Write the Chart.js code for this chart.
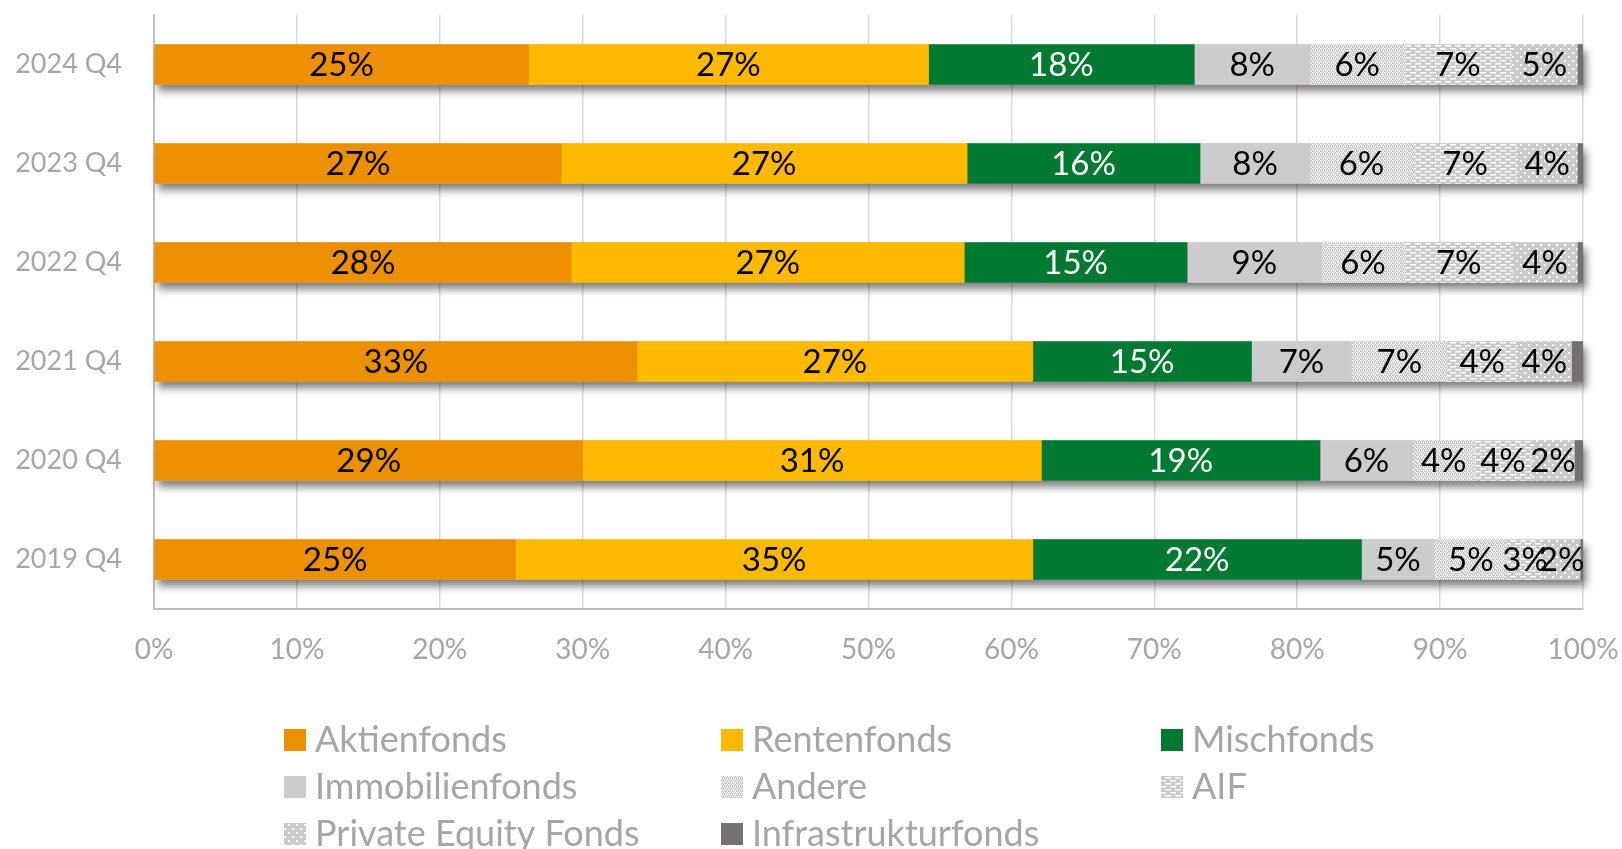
<!DOCTYPE html>
<html><head><meta charset="utf-8">
<script src="https://cdn.jsdelivr.net/npm/chart.js@4/dist/chart.umd.min.js"></script>
<style>html,body{margin:0;padding:0;background:#fff;overflow:hidden}</style>
</head><body>
<canvas id="c" width="1622" height="849"></canvas>
<script>
// ---------- data ----------
const categories = ['2024 Q4','2023 Q4','2022 Q4','2021 Q4','2020 Q4','2019 Q4'];
const seriesNames = ['Aktienfonds','Rentenfonds','Mischfonds','Immobilienfonds','Andere','AIF','Private Equity Fonds','Infrastrukturfonds'];
// share of each bar (%)
const aktienfonds     = [26.2, 28.5, 29.2, 33.8, 30.0, 25.3];
const rentenfonds     = [28.0, 28.4, 27.5, 27.7, 32.1, 36.2];
const mischfonds      = [18.6, 16.3, 15.6, 15.3, 19.5, 23.0];
const immobilienfonds = [8.1, 7.7, 9.4, 7.0, 6.5, 5.1];
const andere          = [6.6, 7.2, 5.8, 6.7, 4.3, 5.1];
const aif             = [7.5, 7.3, 7.6, 4.9, 4.0, 2.5];
const privateEquity   = [4.6, 4.2, 4.5, 3.8, 3.0, 2.6];
const infrastruktur   = [0.4, 0.4, 0.4, 0.8, 0.6, 0.2];
// printed labels (%)
const aktienLabels    = [25, 27, 28, 33, 29, 25];
const rentenLabels    = [27, 27, 27, 27, 31, 35];
const mischLabels     = [18, 16, 15, 15, 19, 22];
const immoLabels      = [8, 8, 9, 7, 6, 5];
const andereLabels    = [6, 6, 6, 7, 4, 5];
const aifLabels       = [7, 7, 7, 4, 4, 3];
const peLabels        = [5, 4, 4, 4, 2, 2];
const infraLabels     = [null, null, null, null, null, null];
const xTickValues     = [0,10,20,30,40,50,60,70,80,90,100];

// ---------- patterns ----------
function pat(w, h, base, draw){
  const c = document.createElement('canvas'); c.width = w; c.height = h;
  const g = c.getContext('2d'); g.fillStyle = base; g.fillRect(0,0,w,h);
  g.fillStyle = '#ffffff'; draw(g);
  return document.getElementById('c').getContext('2d').createPattern(c, 'repeat');
}
const patAndere = pat(4, 4, '#c9c8c8', g => { g.fillRect(0,0,1,1); g.fillRect(2,0,1,1); g.fillRect(1,2,1,1); g.fillRect(3,2,1,1); g.fillRect(1,1,1,1); g.fillRect(3,3,1,1); });
const patAIF = pat(10, 6, '#cbcaca', g => { g.fillRect(0,0,6,1.5); g.fillRect(5,3,6,1.5); g.fillRect(-5,3,6,1.5); });
const patPE = pat(8, 8, '#cbcaca', g => { g.fillRect(0,0,2,2); g.fillRect(4,4,2,2); });

const colors = ['#ec8f00','#ffb900','#007a33','#cdcbcb',patAndere,patAIF,patPE,'#767171'];
const values = [aktienfonds, rentenfonds, mischfonds, immobilienfonds, andere, aif, privateEquity, infrastruktur];
const labelSets = [aktienLabels, rentenLabels, mischLabels, immoLabels, andereLabels, aifLabels, peLabels, infraLabels];
const labelColors = ['#000','#000','#fff','#000','#000','#000','#000','#000'];

const datasets = seriesNames.map((n,i) => ({
  label: n, data: values[i], backgroundColor: colors[i], borderWidth: 0,
  barThickness: 40, stack: 's', printed: labelSets[i], labelColor: labelColors[i]
}));

const FONT = 'Lato, "Open Sans", sans-serif';

const drawPlugin = {
  id: 'drawPlugin',
  beforeDatasetsDraw(chart){
    // one soft shadow per whole bar, positioned from the bar elements
    const ctx = chart.ctx; ctx.save();
    ctx.shadowColor = 'rgba(0,0,0,0.5)'; ctx.shadowBlur = 8; ctx.shadowOffsetX = 3; ctx.shadowOffsetY = 6;
    ctx.fillStyle = '#cccccc';
    const n = chart.data.datasets.length;
    const first = chart.getDatasetMeta(0).data, last = chart.getDatasetMeta(n - 1).data;
    first.forEach((el, i) => {
      const a = el.getProps(['base','y','height'], true);
      const b = last[i].getProps(['x'], true);
      ctx.fillRect(a.base, a.y - a.height/2, b.x - a.base, a.height);
    });
    ctx.restore();
  },
  afterDatasetsDraw(chart){
    const ctx = chart.ctx;
    ctx.save();
    ctx.font = '33px ' + FONT; ctx.textAlign = 'center'; ctx.textBaseline = 'middle';
    chart.data.datasets.forEach((ds, di) => {
      const meta = chart.getDatasetMeta(di);
      meta.data.forEach((el, i) => {
        const v = ds.printed[i]; if (v == null) return;
        const p = el.getProps(['x','y','base'], true);
        ctx.fillStyle = ds.labelColor;
        ctx.fillText(v + '%', (p.x + p.base)/2, p.y + 1);
      });
    });
    ctx.restore();
  },
  afterDraw(chart){
    const ctx = chart.ctx; ctx.save();
    const colX = [284, 721, 1161], rowY = [740, 787, 834];
    ctx.font = '36px ' + FONT; ctx.textBaseline = 'middle'; ctx.textAlign = 'left';
    chart.data.datasets.forEach((ds, i) => {
      const x = colX[i % 3], y = rowY[Math.floor(i / 3)];
      ctx.fillStyle = ds.backgroundColor; ctx.fillRect(x, y - 11, 22, 22);
      ctx.fillStyle = '#a6a6a6'; ctx.fillText(ds.label, x + 31, y);
    });
    ctx.restore();
  }
};

new Chart(document.getElementById('c'), {
  type: 'bar',
  data: { labels: categories, datasets },
  options: {
    indexAxis: 'y', responsive: false, animation: false, devicePixelRatio: 1,
    layout: { padding: { top: 15, right: 39, left: 0, bottom: 0 } },
    plugins: { legend: { display: false }, tooltip: { enabled: false } },
    scales: {
      x: {
        stacked: true, min: 0, max: 100,
        afterBuildTicks: s => { s.ticks = xTickValues.map(v => ({ value: v })); },
        afterFit: s => { s.height = 240; s.paddingLeft = 0; s.paddingRight = 0; },
        ticks: { callback: v => v + '%', color: '#a6a6a6', font: { family: FONT, size: 28 }, padding: 24, maxRotation: 0 },
        grid: { color: '#d9d9d9', lineWidth: 1.5, drawTicks: false },
        border: { display: true, color: '#bfbfbf', width: 2 }
      },
      y: {
        stacked: true,
        afterFit: s => { s.width = 154; s.paddingTop = 0; s.paddingBottom = 0; },
        ticks: { color: '#a6a6a6', font: { family: FONT, size: 27 }, padding: 32 },
        grid: { display: false, drawTicks: false },
        border: { display: true, color: '#bfbfbf', width: 2 }
      }
    }
  },
  plugins: [drawPlugin]
});
</script>
</body></html>
